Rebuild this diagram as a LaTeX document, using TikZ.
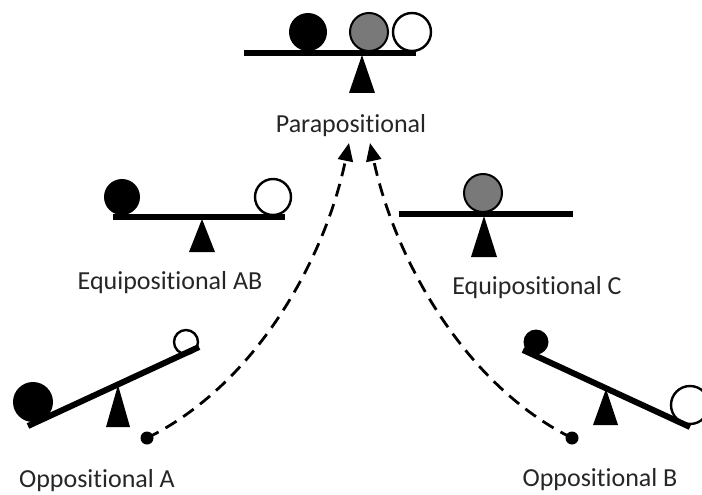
\documentclass[tikz,border=0pt]{standalone}
\usepackage{fontspec}
\setmainfont{Carlito}[Ligatures=NoCommon]
\usetikzlibrary{arrows.meta}
\begin{document}
\begin{tikzpicture}[x=1pt,y=-1pt,
  bar/.style={line width=6pt},
  fulcrum/.style={fill=black},
  blackball/.style={fill=black},
  grayball/.style={fill=gray!95!black, draw=black, line width=2pt},
  whiteball/.style={fill=white, draw=black, line width=2.4pt},
  lbl/.style={font=\fontsize{26}{30}\selectfont, text=black!85},
  dot/.style={circle, fill=black, inner sep=0pt, minimum size=13pt},
  flow/.style={dash pattern=on 13pt off 8pt, line width=2.8pt, -{Triangle[length=18pt,width=15pt]}}]
\useasboundingbox (0,0) rectangle (702,495);
% Parapositional
\fill[blackball] (308,32) circle (19);
\draw[grayball] (369,32) circle (19);
\draw[whiteball] (412,32) circle (19);
\draw[bar] (244,53) -- (416,53);
\fill[fulcrum] (362,55) -- (375,93) -- (349,93) -- cycle;
\node[lbl] (para) at (351,126) {Parapositional};
% Equipositional AB
\fill[blackball] (122,197) circle (18);
\draw[whiteball] (273,197) circle (18);
\draw[bar] (113,217) -- (285,217);
\fill[fulcrum] (202,219) -- (215,252) -- (189,252) -- cycle;
\node[lbl] (eqab) at (170,283) {Equipositional AB};
% Equipositional C
\draw[grayball] (483,193) circle (19);
\draw[bar] (399,214) -- (573,214);
\fill[fulcrum] (484,216) -- (497,257) -- (471,257) -- cycle;
\node[lbl] (eqc) at (537,288) {Equipositional C};
% Oppositional A
\fill[blackball] (33,402) circle (20);
\draw[whiteball] (186,342) circle (12);
\draw[bar] (28,426) -- (199,347);
\fill[fulcrum] (118,385) -- (130,427) -- (106,427) -- cycle;
\node[lbl] (oppa) at (97,481) {Oppositional A};
\node[dot] (da) at (147,438) {};
% Oppositional B
\fill[blackball] (536,342) circle (12.5);
\draw[whiteball] (690,405) circle (19);
\draw[bar] (523,350) -- (690,427);
\fill[fulcrum] (606,389) -- (618,425) -- (593,425) -- cycle;
\node[lbl] (oppb) at (600,480) {Oppositional B};
\node[dot] (db) at (572,438) {};
% arrows
\coordinate (ta) at (349,143);
\coordinate (tb) at (370,143);
\draw[flow] (da.center) .. controls (255,385) and (325,260) .. (ta);
\draw[flow] (db.center) .. controls (465,385) and (395,260) .. (tb);
\end{tikzpicture}
\end{document}
